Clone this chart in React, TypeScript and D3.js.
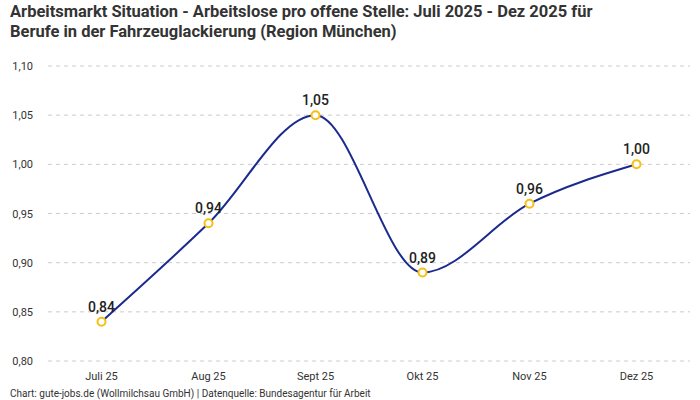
import { useEffect, useRef } from 'react';
import * as d3 from 'd3';

// Arbeitslose pro offene Stelle, Fahrzeuglackierung, Region München
const MONTHS = ['Juli 25', 'Aug 25', 'Sept 25', 'Okt 25', 'Nov 25', 'Dez 25'];
const VALUES = [0.84, 0.94, 1.05, 0.89, 0.96, 1.0];
const Y_TICKS = [0.8, 0.85, 0.9, 0.95, 1.0, 1.05, 1.1];

const W = 700;
const H = 400;
const PAD = { top: 66, right: 10, bottom: 39, left: 48 };
const FONT = 'Roboto, "Noto Sans", sans-serif';

const fmt = (v: number) => v.toFixed(2).replace('.', ',');

export default function App() {
  const svgRef = useRef<SVGSVGElement>(null);

  useEffect(() => {
    if (!svgRef.current) return;
    const svg = d3.select(svgRef.current);
    svg.selectAll('*').remove();

    const x = d3
      .scalePoint<string>()
      .domain(MONTHS)
      .range([PAD.left, W - PAD.right])
      .padding(0.5);
    const y = d3.scaleLinear().domain([0.8, 1.1]).range([H - PAD.bottom, PAD.top]);

    // Title
    const title = svg.append('g').attr('font-family', FONT).attr('font-weight', 700)
      .attr('font-size', 16.5).attr('fill', '#333');
    title.append('text').attr('x', 10).attr('y', 17)
      .text('Arbeitsmarkt Situation - Arbeitslose pro offene Stelle: Juli 2025 - Dez 2025 für');
    title.append('text').attr('x', 10).attr('y', 37)
      .text('Berufe in der Fahrzeuglackierung (Region München)');

    // Grid + y labels
    const grid = svg.append('g');
    Y_TICKS.forEach((t) => {
      grid.append('line')
        .attr('x1', PAD.left).attr('x2', W - PAD.right)
        .attr('y1', y(t)).attr('y2', y(t))
        .attr('stroke', '#ccc').attr('stroke-dasharray', '4 4');
      grid.append('text')
        .attr('x', 33).attr('y', y(t) + 4)
        .attr('text-anchor', 'end')
        .attr('font-family', FONT).attr('font-size', 11).attr('fill', '#333')
        .text(fmt(t));
    });

    // x labels
    MONTHS.forEach((m) => {
      svg.append('text')
        .attr('x', x(m)!).attr('y', 380)
        .attr('text-anchor', 'middle')
        .attr('font-family', FONT).attr('font-size', 11).attr('fill', '#333')
        .text(m);
    });

    const data = MONTHS.map((m, i) => ({ m, v: VALUES[i] }));
    const line = d3.line<{ m: string; v: number }>()
      .x((d) => x(d.m)!)
      .y((d) => y(d.v))
      .curve(d3.curveMonotoneX);

    svg.append('path')
      .datum(data)
      .attr('d', line)
      .attr('fill', 'none')
      .attr('stroke', '#1b2a8f')
      .attr('stroke-width', 2);

    data.forEach((d) => {
      svg.append('circle')
        .attr('cx', x(d.m)!).attr('cy', y(d.v)).attr('r', 4)
        .attr('fill', '#fff').attr('stroke', '#f5c016').attr('stroke-width', 2);
      svg.append('text')
        .attr('x', x(d.m)!).attr('y', y(d.v) - 10)
        .attr('text-anchor', 'middle')
        .attr('font-family', FONT).attr('font-size', 14).attr('font-weight', 500)
        .attr('fill', '#222')
        .text(fmt(d.v));
    });

    svg.append('text')
      .attr('x', 10).attr('y', 397)
      .attr('font-family', FONT).attr('font-size', 10).attr('fill', '#333')
      .text('Chart: gute-jobs.de (Wollmilchsau GmbH) | Datenquelle: Bundesagentur für Arbeit');
  }, []);

  return (
    <div style={{ position: 'absolute', left: 0, top: 0 }}>
      <svg ref={svgRef} width={W} height={H} style={{ display: 'block', background: '#fff' }} />
    </div>
  );
}
